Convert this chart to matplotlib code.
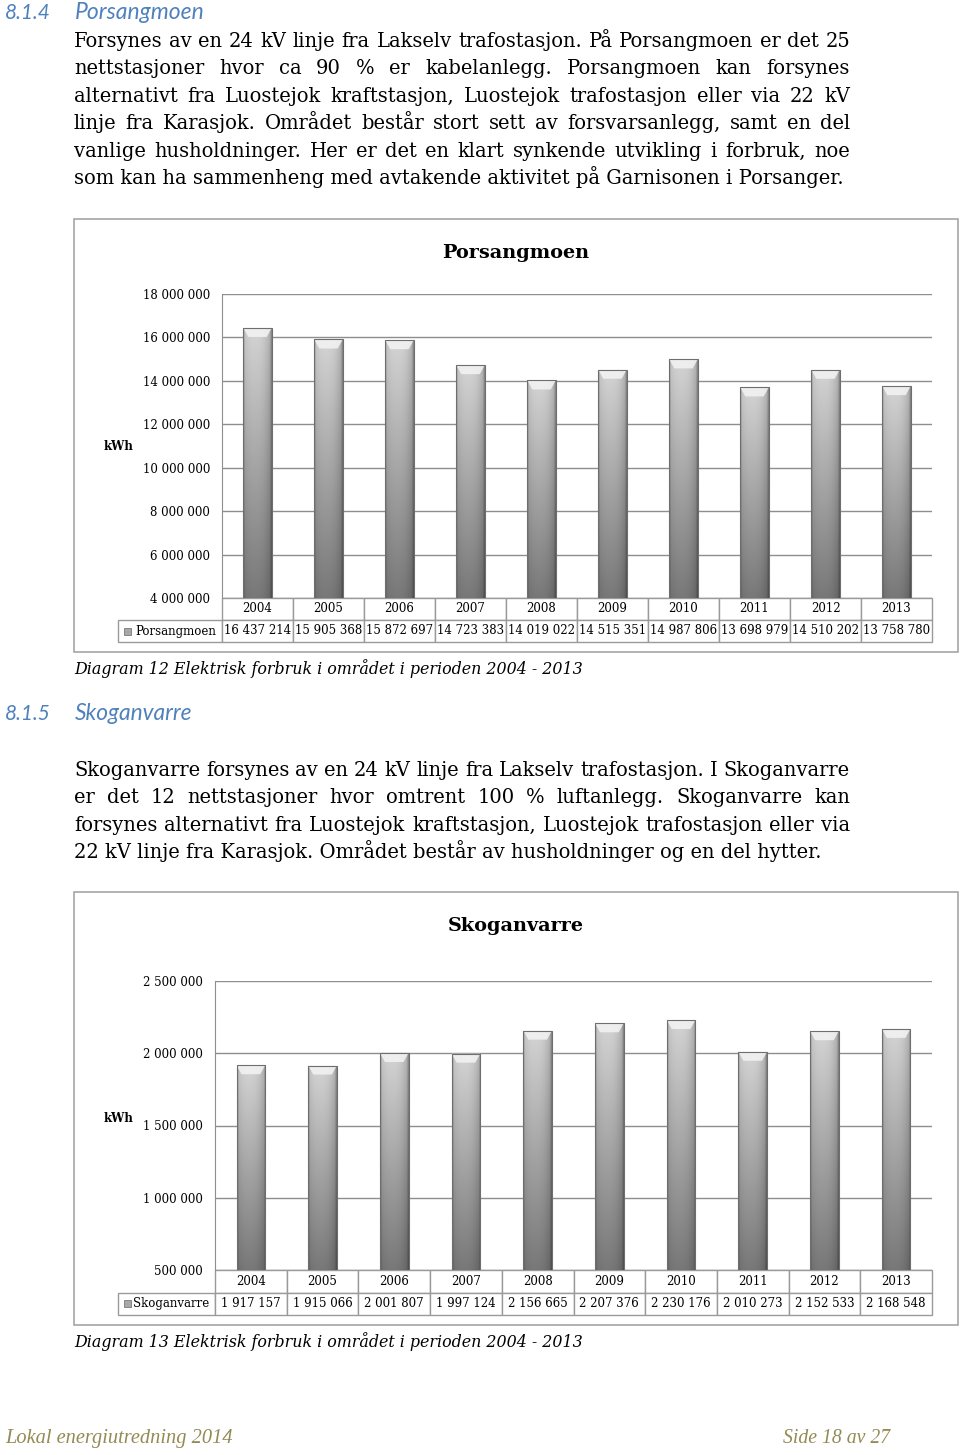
import numpy as np
import matplotlib
matplotlib.use('Agg')
import matplotlib.pyplot as plt
from matplotlib.patches import Rectangle
from matplotlib.table import Table

W, H = 960, 1455

years = ['2004', '2005', '2006', '2007', '2008', '2009', '2010', '2011', '2012', '2013']
porsangmoen_kwh = [16437214, 15905368, 15872697, 14723383, 14019022,
                   14515351, 14987806, 13698979, 14510202, 13758780]
skoganvarre_kwh = [1917157, 1915066, 2001807, 1997124, 2156665,
                   2207376, 2230176, 2010273, 2152533, 2168548]

porsangmoen_text = [
    "Forsynes av en 24 kV linje fra Lakselv trafostasjon. På Porsangmoen er det 25",
    "nettstasjoner hvor ca 90 % er kabelanlegg. Porsangmoen kan forsynes",
    "alternativt fra Luostejok kraftstasjon, Luostejok trafostasjon eller via 22 kV",
    "linje fra Karasjok. Området består stort sett av forsvarsanlegg, samt en del",
    "vanlige husholdninger. Her er det en klart synkende utvikling i forbruk, noe",
    "som kan ha sammenheng med avtakende aktivitet på Garnisonen i Porsanger.",
]
skoganvarre_text = [
    "Skoganvarre forsynes av en 24 kV linje fra Lakselv trafostasjon. I Skoganvarre",
    "er det 12 nettstasjoner hvor omtrent 100 % luftanlegg. Skoganvarre kan",
    "forsynes alternativt fra Luostejok kraftstasjon, Luostejok trafostasjon eller via",
    "22 kV linje fra Karasjok. Området består av husholdninger og en del hytter.",
]

SERIF = 'DejaVu Serif'
BLUE = '#4f81bd'

fig = plt.figure(figsize=(9.6, 14.55), dpi=100)
renderer = fig.canvas.get_renderer()


def fx(x):
    return x / W


def fy(y):
    return 1 - y / H


def kfmt(v):
    return f"{int(v):,}".replace(',', ' ')


def width_of(t):
    return t.get_window_extent(renderer=renderer).width


def fit(t, target):
    t.set_fontsize(t.get_fontsize() * target / width_of(t))
    return t


# body text size taken from the one unjustified full line
probe = fig.text(0, 0, porsangmoen_text[-1], family=SERIF, fontsize=14)
fit(probe, 774)
BODY = probe.get_fontsize()
probe.remove()


def paragraph(lines, first_base, step, x0=74, x1=850):
    for i, line in enumerate(lines):
        y = fy(first_base + i * step)
        if i == len(lines) - 1:
            fig.text(fx(x0), y, line, family=SERIF, fontsize=BODY, va='baseline')
            continue
        words = line.split(' ')
        ts = [fig.text(0, y, w, family=SERIF, fontsize=BODY, va='baseline') for w in words]
        ws = [width_of(t) for t in ts]
        gap = (x1 - x0 - sum(ws)) / (len(ws) - 1)
        x = x0
        for t, w in zip(ts, ws):
            t.set_x(fx(x))
            x += w + gap


def heading(num, title, base, title_w):
    t = fig.text(fx(5), fy(base), num, family='Lato', style='italic', color=BLUE,
                 fontsize=15, va='baseline')
    fit(t, 46)
    t = fig.text(fx(75), fy(base), title, family='Lato', style='italic', color=BLUE,
                 fontsize=15, va='baseline')
    fit(t, title_w)


def caption(text, base):
    t = fig.text(fx(74), fy(base), text, family=SERIF, style='italic',
                 fontsize=12, va='baseline')
    fit(t, 509)


def chart(name, values, box, title_y, title_w, plot, ylim, step, table_bottom, kwh_y):
    bx0, by0, bx1, by1 = box
    fig.patches.append(Rectangle((fx(bx0), fy(by1)), (bx1 - bx0) / W, (by1 - by0) / H,
                                 transform=fig.transFigure, fill=False,
                                 edgecolor='#a6a6a6', linewidth=1.2))
    t = fig.text(fx((bx0 + bx1) / 2 + 74 / 2 - 37), fy(title_y), name, family=SERIF,
                 weight='bold', fontsize=16, ha='center', va='center')
    fit(t, title_w)

    px0, py0, px1, py1 = plot
    aw, ah = px1 - px0, py1 - py0
    ax = fig.add_axes([fx(px0), fy(py1), aw / W, ah / H])
    x = np.arange(len(values))
    bw = 0.4
    bars = ax.bar(x, values, width=bw, color='#9a9a9a', zorder=2)

    # grey shaded fill of every bar
    yy = np.linspace(0, 1, 200)[:, None]
    uu = np.linspace(0, 1, 60)[None, :]
    shade = (0.47 + 0.36 * yy) * (1 - 0.22 * (np.abs(uu - 0.42) / 0.58) ** 2.5)
    shade = np.where((uu < 0.05) | (uu > 0.95), shade * 0.82, shade)
    d = 9 * (ylim[1] - ylim[0]) / ah
    for xi, v, bar in zip(x, values, bars):
        im = ax.imshow(shade, cmap='gray', vmin=0, vmax=1, origin='lower', aspect='auto',
                       extent=(xi - bw / 2, xi + bw / 2, ylim[0], v), zorder=2.5)
        im.set_clip_path(bar)
        ax.fill([xi - bw / 2, xi + bw / 2, xi + bw / 2 - 0.07, xi - bw / 2 + 0.07],
                [v, v, v - d, v - d], color='#f4f4f4', alpha=0.85, lw=0, zorder=3)
    ax.bar(x, values, width=bw, fill=False, edgecolor='#6e6e6e', linewidth=0.8, zorder=4)

    ax.set_xlim(-0.5, len(values) - 0.5)
    ax.set_ylim(*ylim)
    ticks = np.arange(ylim[0], ylim[1] + 1, step)
    ax.set_yticks(ticks)
    ax.set_yticklabels([kfmt(v) for v in ticks], family=SERIF, fontsize=8.5)
    ax.set_xticks([])
    ax.tick_params(axis='y', length=0, pad=8.6)
    ax.yaxis.grid(True, color='#8e8e8e', linewidth=1)
    ax.set_axisbelow(True)
    for s in ('top', 'right', 'bottom'):
        ax.spines[s].set_visible(False)
    ax.spines['left'].set_color('#8e8e8e')
    ax.set_ylabel('kWh', rotation=0, family=SERIF, weight='bold', fontsize=8.5,
                  ha='center', va='center')
    ax.yaxis.set_label_coords((119 - px0) / aw, (py1 - kwh_y) / ah)

    # data table under the plot
    tx0 = 118
    row_h = (table_bottom - py1) / 2
    tb = Table(ax, bbox=[(tx0 - px0) / aw, -(table_bottom - py1) / ah,
                         (px1 - tx0) / aw, (table_bottom - py1) / ah])
    lw_ = (px0 - tx0) / aw
    cw = (px1 - px0) / aw / len(values)
    for j, yr in enumerate(years):
        tb.add_cell(0, j + 1, cw, row_h / ah, text=yr, loc='center', edgecolor='#9a9a9a')
        tb.add_cell(1, j + 1, cw, row_h / ah, text=kfmt(values[j]), loc='center',
                    edgecolor='#9a9a9a')
    lab = tb.add_cell(1, 0, lw_, row_h / ah, text=name, loc='right', edgecolor='#9a9a9a')
    lab.PAD = 0.06
    tb.auto_set_font_size(False)
    tb.set_fontsize(8.5)
    for c in tb.get_celld().values():
        c.get_text().set_fontfamily(SERIF)
    ax.add_table(tb)
    cy = py1 + row_h * 1.5
    fig.patches.append(Rectangle((fx(124), fy(cy + 3.5)), 7 / W, 7 / H,
                                 transform=fig.transFigure, facecolor='#a8a8a8',
                                 edgecolor='#7a7a7a', linewidth=0.6))
    return ax


heading('8.1.4', 'Porsangmoen', 19, 130)
paragraph(porsangmoen_text, 47, 27.4)
chart('Porsangmoen', porsangmoen_kwh, (74, 219, 958, 652), 253, 147,
      (222, 294, 932, 598), (4e6, 18e6), 2e6, 642, 446)
caption('Diagram 12 Elektrisk forbruk i området i perioden 2004 - 2013', 674)

heading('8.1.5', 'Skoganvarre', 720, 118)
paragraph(skoganvarre_text, 776, 27.35)
chart('Skoganvarre', skoganvarre_kwh, (74, 892, 958, 1325), 926, 136,
      (215, 981, 932, 1270), (5e5, 2.5e6), 5e5, 1315, 1119)
caption('Diagram 13 Elektrisk forbruk i området i perioden 2004 - 2013', 1347)

t = fig.text(fx(5), fy(1443), 'Lokal energiutredning 2014', family='Liberation Serif',
             style='italic', color='#948a54', fontsize=14, va='baseline')
fit(t, 227)
t = fig.text(fx(890), fy(1443), 'Side 18 av 27', family='Liberation Serif',
             style='italic', color='#948a54', fontsize=14, va='baseline', ha='right')
fit(t, 107)

fig.savefig('out.png', dpi=100)
